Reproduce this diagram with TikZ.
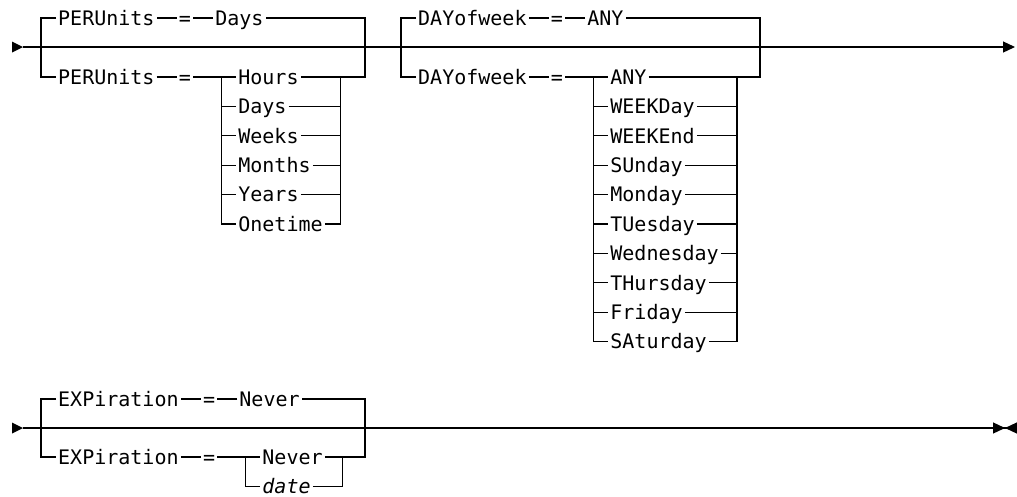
\documentclass[tikz,border=0pt]{standalone}
\usepackage{fontspec}
\usepackage{tikz}
\usetikzlibrary{arrows.meta, positioning}
\newfontfamily\railfont{DejaVu Sans Mono}
\tikzstyle{kw} = [inner xsep=2pt, inner ysep=2pt, text height=14.6pt, text depth=0pt, font=\railfont\fontsize{20}{24}\selectfont]
\tikzstyle{rail} = [line width=1.2pt]
\tikzstyle{endtip} = [-{Triangle[length=12pt,width=11pt]}]
\tikzstyle{stoptip} = [-{Triangle[length=12pt,width=11pt]Triangle[reversed,length=12pt,width=11pt]}]

\begin{document}
\begin{tikzpicture}[x=1pt, y=-1pt]
    \useasboundingbox (0,0) rectangle (1017,496);

    % main lines
    \coordinate (st1) at (23,47);
    \coordinate (en1) at (1015,47);
    \coordinate (st2) at (23,428);
    \coordinate (en2) at (1017,428);
    \fill (st1) -- ++(-11,-5.5) -- ++(0,11) -- cycle;
    \fill (st2) -- ++(-11,-5.5) -- ++(0,11) -- cycle;
    \draw[rail, endtip] (st1) -- (en1);
    \draw[rail, stoptip] (st2) -- (en2);

    % PERUnits
    \coordinate (g1l) at (41,47);
    \coordinate (g1r) at (365,47);
    \node (pu1) [kw, anchor=west] at (56,18) {PERUnits};
    \node (eq1) [kw, right=20pt of pu1] {=};
    \node (day1) [kw, right=20pt of eq1] {Days};
    \node (pu2) [kw, anchor=west] at (56,77) {PERUnits};
    \node (eq2) [kw, right=20pt of pu2] {=};
    \coordinate [right=28pt of eq2] (l1);
    \node (hours) [kw, right=15pt of l1] {Hours};
    \node (days) [kw, below=10.4pt of hours.south west, anchor=north west] {Days};
    \node (weeks) [kw, below=10.4pt of days.south west, anchor=north west] {Weeks};
    \node (months) [kw, below=10.4pt of weeks.south west, anchor=north west] {Months};
    \node (years) [kw, below=10.4pt of months.south west, anchor=north west] {Years};
    \node (onetime) [kw, below=10.4pt of years.south west, anchor=north west] {Onetime};
    \coordinate [right=16pt of onetime] (r1);

    \draw[rail] (pu1) -- (pu1 -| g1l) -- (pu2 -| g1l) -- (pu2) -- (eq2) -- (l1) -- (l1 |- onetime) -- (onetime) -- (r1) -- (r1 |- hours) -- (hours -| g1r) -- (day1 -| g1r) -- (day1) -- (eq1) -- (pu1);
    \draw[rail] (l1) -- (hours) -- (hours -| r1);
    \draw[rail] (l1 |- days) -- (days) -- (days -| r1);
    \draw[rail] (l1 |- weeks) -- (weeks) -- (weeks -| r1);
    \draw[rail] (l1 |- months) -- (months) -- (months -| r1);
    \draw[rail] (l1 |- years) -- (years) -- (years -| r1);

    % DAYofweek
    \coordinate (g2l) at (401,47);
    \coordinate (g2r) at (760,47);
    \node (dw1) [kw, anchor=west] at (416,18) {DAYofweek};
    \node (eq3) [kw, right=20pt of dw1] {=};
    \node (any1) [kw, right=20pt of eq3] {ANY};
    \node (dw2) [kw, anchor=west] at (416,77) {DAYofweek};
    \node (eq4) [kw, right=20pt of dw2] {=};
    \coordinate [right=28pt of eq4] (l2);
    \node (any2) [kw, right=15pt of l2] {ANY};
    \node (wkday) [kw, below=10.4pt of any2.south west, anchor=north west] {WEEKDay};
    \node (wkend) [kw, below=10.4pt of wkday.south west, anchor=north west] {WEEKEnd};
    \node (sun) [kw, below=10.4pt of wkend.south west, anchor=north west] {SUnday};
    \node (mon) [kw, below=10.4pt of sun.south west, anchor=north west] {Monday};
    \node (tue) [kw, below=10.4pt of mon.south west, anchor=north west] {TUesday};
    \node (wed) [kw, below=10.4pt of tue.south west, anchor=north west] {Wednesday};
    \node (thu) [kw, below=10.4pt of wed.south west, anchor=north west] {THursday};
    \node (fri) [kw, below=10.4pt of thu.south west, anchor=north west] {Friday};
    \node (sat) [kw, below=10.4pt of fri.south west, anchor=north west] {SAturday};
    \coordinate [right=16pt of wed] (r2);

    \draw[rail] (dw1) -- (dw1 -| g2l) -- (dw2 -| g2l) -- (dw2) -- (eq4) -- (l2) -- (l2 |- sat) -- (sat) -- (sat -| r2) -- (r2 |- any2) -- (any2 -| g2r) -- (any1 -| g2r) -- (any1) -- (eq3) -- (dw1);
    \draw[rail] (l2) -- (any2) -- (any2 -| r2);
    \draw[rail] (l2 |- wkday) -- (wkday) -- (wkday -| r2);
    \draw[rail] (l2 |- wkend) -- (wkend) -- (wkend -| r2);
    \draw[rail] (l2 |- sun) -- (sun) -- (sun -| r2);
    \draw[rail] (l2 |- mon) -- (mon) -- (mon -| r2);
    \draw[rail] (l2 |- tue) -- (tue) -- (tue -| r2);
    \draw[rail] (l2 |- wed) -- (wed) -- (r2);
    \draw[rail] (l2 |- thu) -- (thu) -- (thu -| r2);
    \draw[rail] (l2 |- fri) -- (fri) -- (fri -| r2);

    % EXPiration
    \coordinate (g3l) at (41,428);
    \coordinate (g3r) at (365,428);
    \node (ex1) [kw, anchor=west] at (56,399) {EXPiration};
    \node (eq5) [kw, right=20pt of ex1] {=};
    \node (nev1) [kw, right=20pt of eq5] {Never};
    \node (ex2) [kw, anchor=west] at (56,457) {EXPiration};
    \node (eq6) [kw, right=20pt of ex2] {=};
    \coordinate [right=28pt of eq6] (l3);
    \node (nev2) [kw, right=15pt of l3] {Never};
    \node (date) [kw, below=10.4pt of nev2.south west, anchor=north west] {\itshape date};
    \coordinate [right=18pt of nev2] (r3);

    \draw[rail] (ex1) -- (ex1 -| g3l) -- (ex2 -| g3l) -- (ex2) -- (eq6) -- (l3) -- (l3 |- date) -- (date) -- (date -| r3) -- (r3) -- (nev2 -| g3r) -- (nev1 -| g3r) -- (nev1) -- (eq5) -- (ex1);
    \draw[rail] (l3) -- (nev2) -- (r3);
\end{tikzpicture}
\end{document}
